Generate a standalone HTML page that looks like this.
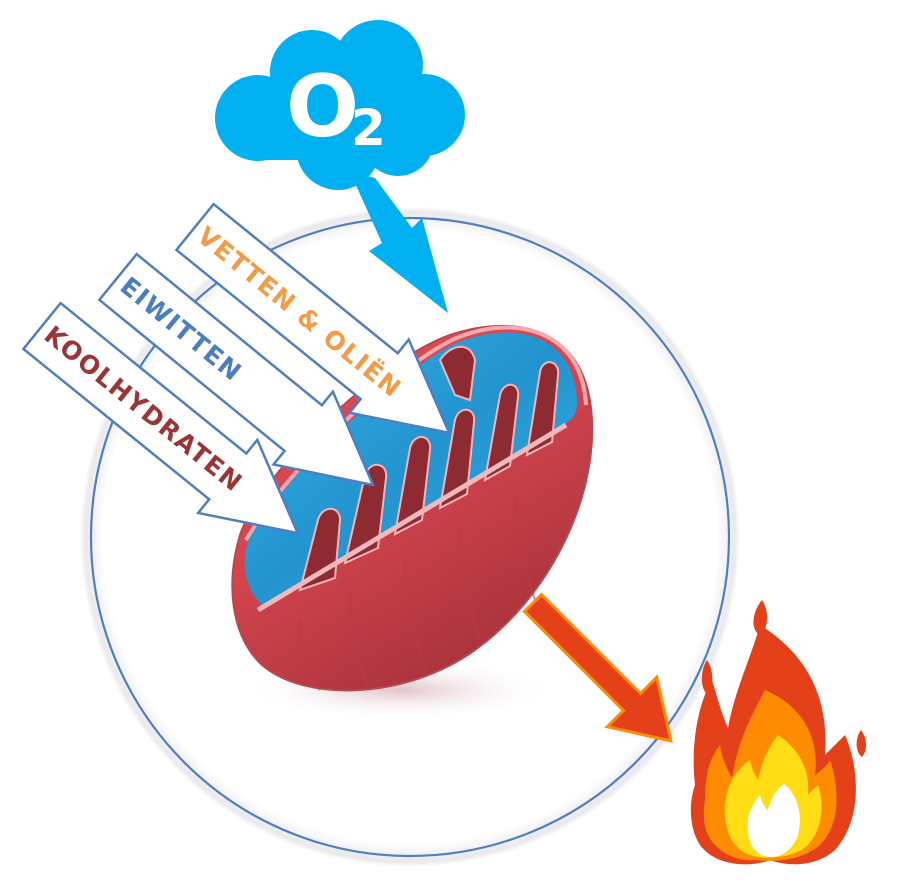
<!DOCTYPE html>
<html><head><meta charset="utf-8"><style>
html,body{margin:0;padding:0;background:#fff;}
svg{display:block;}
</style></head><body>
<svg width="900" height="890" viewBox="0 0 900 890" xmlns="http://www.w3.org/2000/svg">
<defs>
<radialGradient id="halo" cx="0.5" cy="0.5" r="0.5">
<stop offset="0.93" stop-color="#fff"/><stop offset="0.985" stop-color="#e9e9ee"/><stop offset="1" stop-color="#fff"/>
</radialGradient>
<linearGradient id="red" x1="0" y1="0" x2="0.6" y2="1">
<stop offset="0" stop-color="#e4505a"/><stop offset="0.5" stop-color="#d4454e"/><stop offset="1" stop-color="#a8323b"/>
</linearGradient>
<linearGradient id="blue" x1="0" y1="0" x2="1" y2="1">
<stop offset="0" stop-color="#35b0e6"/><stop offset="0.5" stop-color="#2294cf"/><stop offset="1" stop-color="#38b2e8"/>
</linearGradient>
<radialGradient id="shadow" cx="0.5" cy="0.5" r="0.5">
<stop offset="0" stop-color="#d9b5bb" stop-opacity="0.8"/><stop offset="1" stop-color="#fff" stop-opacity="0"/>
</radialGradient>
</defs>

<circle cx="410" cy="537" r="330" fill="url(#halo)"/>
<circle cx="410" cy="537" r="319" fill="none" stroke="#4f7fbf" stroke-width="2.2"/>

<!-- cloud -->
<g fill="#00b0f0">
<circle cx="258" cy="118" r="43"/>
<circle cx="312" cy="72" r="42"/>
<circle cx="378" cy="65" r="45"/>
<circle cx="424" cy="115" r="41"/>
<circle cx="338" cy="148" r="42"/>
<circle cx="398" cy="140" r="36"/>
<rect x="258" y="90" width="170" height="70"/>
<polygon points="350,172 375,178 412,228 422,218 448,313 369,251 382,243"/>
</g>
<text x="286" y="136" font-family="DejaVu Sans, Liberation Sans, sans-serif" font-weight="bold" font-size="86" fill="#fff">O</text>
<text x="351" y="145" font-family="DejaVu Sans, Liberation Sans, sans-serif" font-weight="bold" font-size="50" fill="#fff">2</text>

<ellipse cx="400" cy="690" rx="160" ry="30" fill="url(#shadow)"/>

<!-- mitochondrion -->
<path d="M240,535 C262,470 380,360 450,335 C520,312 588,330 592,420 C596,505 545,600 475,650 C405,700 305,702 262,665 C230,635 226,582 240,535 Z" fill="url(#red)" stroke="#b9474f" stroke-width="2"/>
<path d="M250,537 C290,470 390,378 452,345 C512,318 574,334 577,400 C578,414 572,420 562,426 L262,605 C244,588 240,560 250,537 Z" fill="url(#blue)"/>
<g fill="#8e2a31" stroke="#f2b4b8" stroke-width="2">
<path d="M300,590 L318,520 C322,505 340,505 340,520 L335,578 Z"/>
<path d="M345,563 L365,475 C370,460 388,462 386,478 L378,548 Z"/>
<path d="M395,534 L410,448 C414,432 432,434 430,450 L422,520 Z"/>
<path d="M440,508 L455,420 C459,405 476,407 474,422 L467,494 Z"/>
<path d="M485,480 L500,395 C504,380 520,382 518,397 L510,466 Z"/>
<path d="M527,455 L540,372 C543,357 560,360 558,375 L552,442 Z"/>
<path d="M440,360 C450,345 470,340 475,360 L470,400 L455,395 Z"/>
</g>
<path d="M258,610 L566,425" stroke="#f3b8bd" stroke-width="5" fill="none"/>
<path d="M246,540 C290,465 390,372 452,340 C515,312 582,330 586,405" stroke="#f0aab0" stroke-width="4" fill="none"/>
<g fill="none" stroke="#b83c46" stroke-width="2" opacity="0.6">
<path d="M300,620 C300,650 310,680 320,690"/>
<path d="M350,595 C350,640 360,670 370,690"/>
<path d="M405,562 C405,610 415,640 425,670"/>
<path d="M460,530 C460,570 470,610 480,640"/>
<path d="M515,497 C515,540 525,570 535,600"/>
</g>

<!-- input arrows -->
<g font-family="DejaVu Sans, Liberation Sans, sans-serif" font-weight="bold" font-size="25" letter-spacing="1.5">
<g transform="translate(195,227) rotate(39)">
<polygon points="0,-29.5 237,-29.5 237,-47 327,0 237,47 237,29.5 0,29.5" fill="#fff" stroke="#4f7fbf" stroke-width="2.5"/>
<text x="8" y="9" fill="#f59a45">VETTEN &amp; OLIËN</text>
</g>
<g transform="translate(118,277) rotate(39.2)">
<polygon points="0,-29.5 239,-29.5 239,-47 329,0 239,47 239,29.5 0,29.5" fill="#fff" stroke="#4f7fbf" stroke-width="2.5"/>
<text x="8" y="9" fill="#4a7ec0">EIWITTEN</text>
</g>
<g transform="translate(42,326) rotate(39)">
<polygon points="0,-29.5 239,-29.5 239,-47 329,0 239,47 239,29.5 0,29.5" fill="#fff" stroke="#4f7fbf" stroke-width="2.5"/>
<text x="8" y="9" fill="#9b3535">KOOLHYDRATEN</text>
</g>
</g>

<!-- orange arrow -->
<g transform="translate(533,603) rotate(45)">
<polygon points="0,-12 140,-12 140,-35 195,0 140,35 140,12 0,12" fill="#e4401a" stroke="#ff8c00" stroke-width="3"/>
</g>

<!-- flame -->
<g>
<path d="M695,785 C690,740 700,700 712,680 C718,700 722,715 728,728 C735,690 750,660 760,625 C800,650 830,690 825,755 C835,745 840,740 845,735 C860,770 862,820 835,850 C815,868 785,866 770,860 C750,868 715,866 700,845 C690,830 688,805 695,785 Z" fill="#e4401a"/>
<path d="M705,800 C705,770 712,755 720,745 C722,760 728,770 732,778 C738,740 752,715 765,690 C800,705 820,735 815,775 C822,770 828,765 830,760 C840,790 840,825 820,845 C800,862 770,862 755,860 C735,862 715,850 708,835 C703,825 703,812 705,800 Z" fill="#ff8c00"/>
<path d="M725,815 C723,790 735,770 750,760 C752,770 755,775 758,780 C762,760 770,745 778,735 C800,750 810,770 808,795 C812,790 815,788 818,785 C825,805 822,830 808,845 C795,858 765,860 750,855 C735,850 726,835 725,815 Z" fill="#ffdd15"/>
<path d="M748,832 C746,815 752,805 760,795 C762,803 765,808 768,810 C772,795 778,788 784,784 C798,795 803,815 798,835 C793,850 780,858 770,857 C756,856 749,845 748,832 Z" fill="#fff"/>
<path d="M762,600 C752,612 750,630 760,635 C768,630 770,612 762,600 Z" fill="#e4401a"/>
<path d="M707,660 C700,670 700,690 708,695 C714,688 714,670 707,660 Z" fill="#e4401a"/>
<path d="M861,730 C855,738 855,752 862,757 C868,750 867,738 861,730 Z" fill="#e4401a"/>
</g>
</svg>
</body></html>
